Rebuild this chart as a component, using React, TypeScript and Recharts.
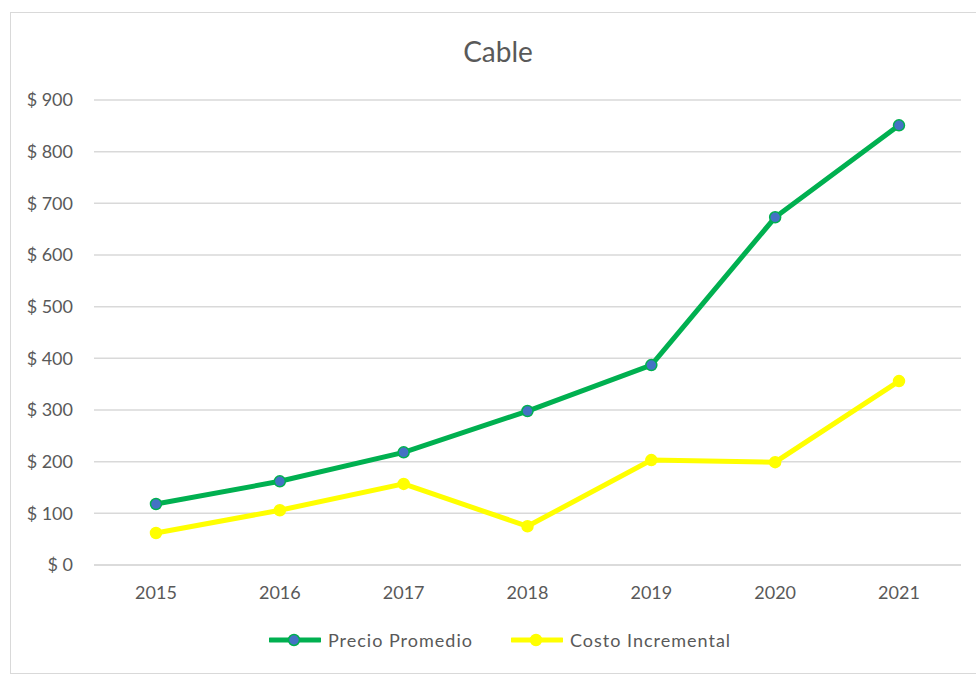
import React from "react";
import { LineChart, Line, XAxis, YAxis, CartesianGrid, Legend } from "recharts";

const years = ["2015", "2016", "2017", "2018", "2019", "2020", "2021"];
const precioPromedio = [118, 162, 218, 298, 387, 673, 851];
const costoIncremental = [62, 106, 157, 75, 203, 199, 356];
const yTicks = [0, 100, 200, 300, 400, 500, 600, 700, 800, 900];

const data = years.map((year, i) => ({
  year,
  precio: precioPromedio[i],
  costo: costoIncremental[i],
}));

const FONT = "Lato, 'Open Sans', sans-serif";
const TEXT = "#595959";
const GREEN = "#00B050";
const BLUE = "#4472C4";
const YELLOW = "#FFFF00";

const legendItems = [
  { label: "Precio Promedio", line: GREEN, dot: BLUE },
  { label: "Costo Incremental", line: YELLOW, dot: YELLOW },
];

const LegendContent = () => (
  <div
    style={{
      display: "flex",
      justifyContent: "center",
      alignItems: "center",
      paddingLeft: 39,
      height: 20,
      fontFamily: FONT,
      fontSize: 18,
      letterSpacing: 1,
      color: TEXT,
    }}
  >
    {legendItems.map((item, i) => (
      <div key={item.label} style={{ display: "flex", alignItems: "center", marginLeft: i ? 38 : 0 }}>
        <svg width={52} height={14} style={{ marginRight: 7 }}>
          <line x1={1} y1={7} x2={51} y2={7} stroke={item.line} strokeWidth={5} strokeLinecap="round" />
          <circle cx={25} cy={7} r={5.5} fill={item.dot} stroke={item.line} strokeWidth={1.5} />
        </svg>
        <span>{item.label}</span>
      </div>
    ))}
  </div>
);

export default function App() {
  return (
    <div
      style={{
        position: "absolute",
        left: 0,
        top: 0,
        width: 976,
        height: 675,
        overflow: "hidden",
        background: "#fff",
      }}
    >
      <div
        style={{
          position: "absolute",
          left: 10,
          top: 12,
          width: 990,
          height: 660,
          border: "1px solid #d9d9d9",
        }}
      />
      <div
        style={{
          position: "absolute",
          left: 0,
          width: 996,
          top: 33,
          textAlign: "center",
          fontFamily: FONT,
          fontSize: 28,
          color: TEXT,
          lineHeight: "36px",
        }}
      >
        Cable
      </div>
      <LineChart
        width={976}
        height={675}
        data={data}
        margin={{ top: 100, right: 15, bottom: 9, left: 0 }}
        style={{ position: "absolute", left: 0, top: 0 }}
      >
        <CartesianGrid vertical={false} stroke="#d9d9d9" strokeWidth={1.5} />
        <XAxis
          dataKey="year"
          height={65}
          padding={{ left: 62, right: 62 }}
          axisLine={{ stroke: "#d9d9d9", strokeWidth: 1.5 }}
          tickLine={false}
          tickSize={0}
          tickMargin={21}
          tick={{ fill: TEXT, fontSize: 18, fontFamily: FONT }}
        />
        <YAxis
          width={94}
          domain={[0, 900]}
          ticks={yTicks}
          axisLine={false}
          tickLine={false}
          tickSize={0}
          tickMargin={21}
          tickFormatter={(v) => `$ ${v}`}
          tick={{ fill: TEXT, fontSize: 18, fontFamily: FONT }}
        />
        <Legend verticalAlign="bottom" height={36} content={<LegendContent />} />
        <Line
          dataKey="precio"
          name="Precio Promedio"
          stroke={GREEN}
          strokeWidth={5}
          dot={{ r: 5.5, fill: BLUE, stroke: GREEN, strokeWidth: 1.5 }}
          activeDot={false}
          isAnimationActive={false}
        />
        <Line
          dataKey="costo"
          name="Costo Incremental"
          stroke={YELLOW}
          strokeWidth={5}
          dot={{ r: 5.5, fill: YELLOW, stroke: YELLOW, strokeWidth: 1.5 }}
          activeDot={false}
          isAnimationActive={false}
        />
      </LineChart>
    </div>
  );
}
